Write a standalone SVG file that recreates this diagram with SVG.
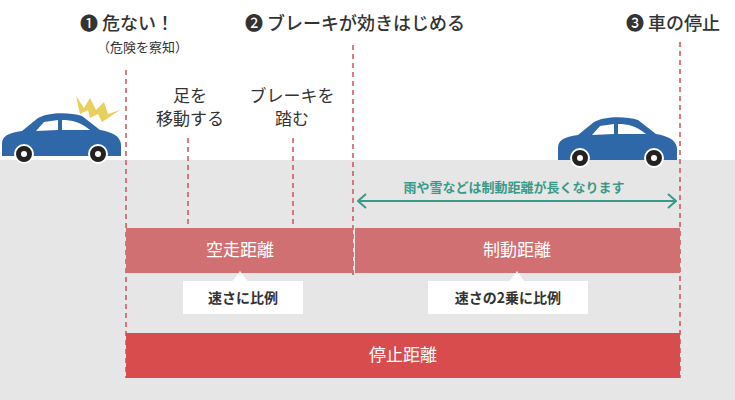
<svg xmlns="http://www.w3.org/2000/svg" width="735" height="400" viewBox="0 0 735 400">
<style>
text{font-family:"Noto Sans CJK JP","DejaVu Sans",sans-serif;}
.h{font-size:18px;fill:#333;font-weight:500}
.s{font-size:13px;fill:#333}
.m{font-size:17px;fill:#333}
.d{stroke:#d0505a;stroke-width:1.5;stroke-dasharray:5,4;fill:none}
.bl{font-size:17px;fill:#fff}
.cb{font-size:14px;fill:#333;font-weight:bold}
.car{fill:#2f68a8}
.win{fill:#fff}
.wh{fill:#222;stroke:#fff;stroke-width:2}
.hub{fill:#fff}
</style>
<defs>
<marker id="ah" viewBox="0 0 10 16" refX="9" refY="8" markerWidth="10" markerHeight="16" markerUnits="userSpaceOnUse" orient="auto-start-reverse"><path d="M1,1 L9,8 L1,15" fill="none" stroke="#3a9a8a" stroke-width="2"/></marker>
<g id="carshape">
<path class="car" d="M2,32 C2,24 8,21 22,19 L38,6 C48,0 70,0 82,4 L100,18 C112,20 120,24 121,32 L121,44 L2,44 Z"/>
<path class="win" d="M44,10 L58,8 L58,18 L36,19 Z"/>
<path class="win" d="M62,8 C72,8 80,10 90,18 L62,18 Z"/>
<circle class="wh" cx="24" cy="42" r="9"/><circle class="hub" cx="24" cy="42" r="3"/>
<circle class="wh" cx="98" cy="42" r="9"/><circle class="hub" cx="98" cy="42" r="3"/>
</g>
</defs>
<rect x="0" y="0" width="735" height="400" fill="#fff"/>
<rect x="0" y="160" width="735" height="240" fill="#e6e6e6"/>
<g id="connectors">
<line class="d" x1="126" y1="70" x2="126" y2="378"/>
<line class="d" x1="188" y1="138" x2="188" y2="228"/>
<line class="d" x1="293" y1="138" x2="293" y2="228"/>
<line class="d" x1="353" y1="45" x2="353" y2="275"/>
<line class="d" x1="680" y1="42" x2="680" y2="378"/>
<line x1="358" y1="201" x2="676" y2="201" stroke="#3a9a8a" stroke-width="2" marker-start="url(#ah)" marker-end="url(#ah)"/>
</g>
<g id="labels">
<text class="h" x="80" y="30">❶ 危ない！</text>
<text class="s" x="97" y="52">（危険を察知）</text>
<text class="h" x="245" y="30">❷ ブレーキが効きはじめる</text>
<text class="h" x="626" y="30">❸ 車の停止</text>
<text class="m" x="190" y="102" text-anchor="middle">足を</text>
<text class="m" x="190" y="125" text-anchor="middle">移動する</text>
<text class="m" x="292" y="102" text-anchor="middle">ブレーキを</text>
<text class="m" x="292" y="125" text-anchor="middle">踏む</text>
<text x="514" y="192" text-anchor="middle" font-size="13" font-weight="bold" fill="#3a9a8a">雨や雪などは制動距離が長くなります</text>
</g>
<g id="car1"><use href="#carshape" x="0" y="112"/>
<path d="M76,96 L84,108 L90,98 L96,110 L104,102 L108,114 L120,110 L102,122 L98,114 L90,118 L88,110 L80,114 Z" fill="#e8d060"/></g>
<g id="car2"><use href="#carshape" x="556" y="116"/></g>
<g id="kuso"><rect x="126" y="228" width="227" height="45" fill="#d07072"/><text class="bl" x="240" y="256" text-anchor="middle">空走距離</text></g>
<g id="seido"><rect x="355" y="228" width="325" height="45" fill="#d07072"/><text class="bl" x="517" y="256" text-anchor="middle">制動距離</text></g>
<g id="c1"><path d="M240,271 L248,282 L232,282 Z" fill="#fff"/><rect x="183" y="281" width="120" height="33" fill="#fff"/><text class="cb" x="243" y="303" text-anchor="middle">速さに比例</text></g>
<g id="c2"><path d="M517,271 L525,282 L509,282 Z" fill="#fff"/><rect x="428" y="281" width="160" height="33" fill="#fff"/><text class="cb" x="508" y="303" text-anchor="middle">速さの2乗に比例</text></g>
<g id="teishi"><rect x="126" y="333" width="554" height="45" fill="#d84c4e"/><text class="bl" x="403" y="361" text-anchor="middle">停止距離</text></g>
</svg>
